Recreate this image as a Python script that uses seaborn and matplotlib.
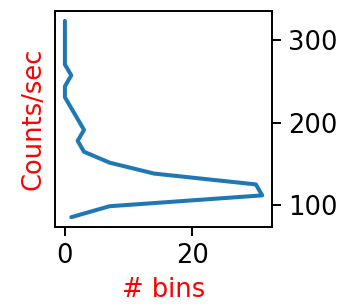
import matplotlib
matplotlib.use("Agg")
import matplotlib.pyplot as plt
import seaborn as sns
import pandas as pd

# Histogram of count rates (bin centres in counts/sec) and number of bins
rate_centres = [85.1, 98.4, 111.6, 124.9, 138.1, 151.4, 164.6, 177.9, 191.1,
                204.4, 217.6, 230.9, 244.1, 257.4, 270.6, 283.9, 297.1, 310.4, 323.6]
n_bins = [1, 7, 31, 30, 14, 7, 3, 2, 3, 2, 1, 0, 0, 1, 0, 0, 0, 0, 0]
x_ticks = [0, 20]
y_ticks = [100, 200, 300]

df = pd.DataFrame({"bins": n_bins, "rate": rate_centres})

sns.set_style("ticks")
plt.rcParams["font.family"] = ["DejaVu Sans"]

fig = plt.figure(figsize=(3.44, 3.08), dpi=100)
ax = fig.add_axes([0.16, 0.263, 0.631, 0.701])

sns.lineplot(data=df, x="bins", y="rate", sort=False, estimator=None,
             errorbar=None, ax=ax, color="#1f77b4", linewidth=2.9)

ax.set_xticks(x_ticks)
ax.set_yticks(y_ticks)
ax.yaxis.tick_right()
ax.yaxis.set_label_position("left")
ax.set_xlabel("# bins", color="red", fontsize=18.5, labelpad=6)
ax.set_ylabel("Counts/sec", color="red", fontsize=18.5, labelpad=6)
ax.tick_params(axis="both", labelsize=18.5, length=6.5, width=1.4,
               color="black", labelcolor="black", pad=5)
for s in ax.spines.values():
    s.set_visible(True)
    s.set_linewidth(1.4)
    s.set_color("black")
ax.margins(0.05)

fig.savefig("out.png", dpi=100)
